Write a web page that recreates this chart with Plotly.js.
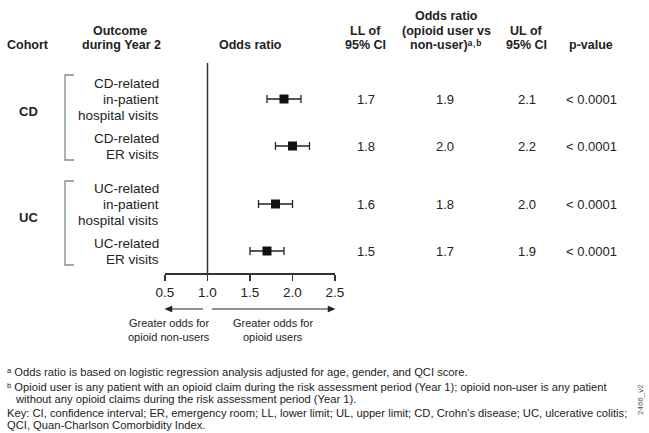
<!DOCTYPE html>
<html>
<head>
<meta charset="utf-8">
<script src="https://cdn.plot.ly/plotly-3.0.1.min.js"></script>
<style>html,body{margin:0;padding:0;background:#fff;}#chart{width:649px;height:433px;}</style>
</head>
<body>
<div id="chart"></div>
<script>
// ---- data ----
const cohorts = ['CD', 'UC'];
const cohortOfRow = [0, 0, 1, 1];
const outcomeLines = [
  ['CD-related', 'in-patient', 'hospital visits'],
  ['CD-related', 'ER visits'],
  ['UC-related', 'in-patient', 'hospital visits'],
  ['UC-related', 'ER visits']
];
const oddsRatio = [1.9, 2.0, 1.8, 1.7];
const lowerCI = [1.7, 1.8, 1.6, 1.5];
const upperCI = [2.1, 2.2, 2.0, 1.9];
const pValues = ['< 0.0001', '< 0.0001', '< 0.0001', '< 0.0001'];
const tickVals = [0.5, 1.0, 1.5, 2.0, 2.5];
const tickLabels = ['0.5', '1.0', '1.5', '2.0', '2.5'];

// ---- layout helpers ----
const FONT = 'Liberation Sans, Arial, Helvetica, sans-serif';
const INK = '#222';
const PL = 165, PR = 335, PT = 63, PB = 273;
const px = x => (x - PL) / (PR - PL);
const py = y => (PB - y) / (PB - PT);
const groupGap = 0.234;
const rowPos = oddsRatio.map((_, k) => k + cohortOfRow[k] * groupGap);

const ann = [];
function txt(x, y, text, opt) {
  ann.push(Object.assign({
    xref: 'paper', yref: 'paper', x: px(x), y: py(y), text: text,
    showarrow: false, xanchor: 'center', yanchor: 'middle',
    font: {family: FONT, size: 13, color: INK}
  }, opt || {}));
}
const bold = {family: FONT, size: 12.5, color: INK, weight: 'bold'};

// headers
txt(28, 45, 'Cohort', {font: bold});
txt(120, 31, 'Outcome', {font: bold});
txt(121, 45, 'during Year 2', {font: bold});
txt(250, 45, 'Odds ratio', {font: bold});
txt(365, 31, 'LL of', {font: bold});
txt(365, 45, '95% CI', {font: bold});
txt(446, 16, 'Odds ratio', {font: bold});
txt(446, 31, '(opioid user vs', {font: bold});
txt(446, 45, 'non-user)\u1D43\u02D2\u1D47', {font: bold});
txt(526, 31, 'UL of', {font: bold});
txt(526, 45, '95% CI', {font: bold});
txt(591, 45, 'p-value', {font: bold});

// cohort labels
txt(28, 112, cohorts[0], {font: Object.assign({}, bold, {size: 13})});
txt(28, 217, cohorts[1], {font: Object.assign({}, bold, {size: 13})});

// row labels and table values
outcomeLines.forEach((lines, k) => {
  const n = lines.length;
  lines.forEach((ln, i) => {
    ann.push({xref: 'paper', yref: 'y', x: px(161), y: rowPos[k], yshift: ((n - 1) / 2 - i) * 16,
      text: ln, showarrow: false, xanchor: 'right', yanchor: 'middle',
      font: {family: FONT, size: 13.5, color: INK}});
  });
  const cols = [[366, lowerCI[k].toFixed(1)], [445, oddsRatio[k].toFixed(1)], [527, upperCI[k].toFixed(1)], [591, pValues[k]]];
  cols.forEach(c => {
    ann.push({xref: 'paper', yref: 'y', x: px(c[0]), y: rowPos[k], text: c[1], showarrow: false,
      xanchor: 'center', yanchor: 'middle', font: {family: FONT, size: 13, color: INK}});
  });
});

// direction captions
const small = {family: FONT, size: 11, color: INK};
txt(169, 323, 'Greater odds for', {font: small});
txt(169, 337, 'opioid non-users', {font: small});
txt(273, 323, 'Greater odds for', {font: small});
txt(273, 337, 'opioid users', {font: small});

// footnotes
const foot = {family: FONT, size: 11.2, color: INK};
txt(5, 372, '\u1D43 Odds ratio is based on logistic regression analysis adjusted for age, gender, and QCI score.', {xanchor: 'left', font: foot});
txt(5, 387, '\u1D47 Opioid user is any patient with an opioid claim during the risk assessment period (Year 1); opioid non-user is any patient', {xanchor: 'left', font: foot});
txt(13, 399, 'without any opioid claims during the risk assessment period (Year 1).', {xanchor: 'left', font: foot});
txt(5, 413, 'Key: CI, confidence interval; ER, emergency room; LL, lower limit; UL, upper limit; CD, Crohn\u2019s disease; UC, ulcerative colitis;', {xanchor: 'left', font: foot});
txt(5, 425, 'QCI, Quan-Charlson Comorbidity Index.', {xanchor: 'left', font: foot});
txt(640, 400, '2466_v2', {textangle: -90, font: {family: FONT, size: 8, color: '#555'}});

// reference line, brackets, arrows
const ay = 309;
const shapes = [
  {type: 'line', xref: 'x', yref: 'paper', x0: 1, x1: 1, y0: 0, y1: 1, line: {color: '#333', width: 1.5}},
  {type: 'path', xref: 'paper', yref: 'paper',
   path: `M ${px(74)},${py(75)} L ${px(65)},${py(75)} L ${px(65)},${py(160)} L ${px(74)},${py(160)}`,
   line: {color: '#888', width: 1.3}},
  {type: 'path', xref: 'paper', yref: 'paper',
   path: `M ${px(74)},${py(181)} L ${px(65)},${py(181)} L ${px(65)},${py(265)} L ${px(74)},${py(265)}`,
   line: {color: '#888', width: 1.3}},
  {type: 'line', xref: 'paper', yref: 'paper', x0: px(203), x1: px(170), y0: py(ay), y1: py(ay), line: {color: INK, width: 1.2}},
  {type: 'path', xref: 'paper', yref: 'paper',
   path: `M ${px(165)},${py(ay)} L ${px(172)},${py(ay - 3)} L ${px(172)},${py(ay + 3)} Z`,
   fillcolor: INK, line: {color: INK, width: 0.5}},
  {type: 'line', xref: 'paper', yref: 'paper', x0: px(212), x1: px(330), y0: py(ay), y1: py(ay), line: {color: INK, width: 1.2}},
  {type: 'path', xref: 'paper', yref: 'paper',
   path: `M ${px(335)},${py(ay)} L ${px(328)},${py(ay - 3)} L ${px(328)},${py(ay + 3)} Z`,
   fillcolor: INK, line: {color: INK, width: 0.5}}
];

const trace = {
  type: 'scatter', mode: 'markers',
  x: oddsRatio, y: rowPos,
  marker: {symbol: 'square', size: 9, color: '#111'},
  error_x: {type: 'data', symmetric: false,
    array: oddsRatio.map((v, k) => upperCI[k] - v),
    arrayminus: oddsRatio.map((v, k) => v - lowerCI[k]),
    thickness: 1.3, width: 4, color: '#222'},
  hoverinfo: 'skip'
};

const layout = {
  width: 649, height: 433,
  margin: {l: PL, r: 649 - PR, t: PT, b: 433 - PB, pad: 0},
  paper_bgcolor: '#fff', plot_bgcolor: '#fff',
  showlegend: false,
  xaxis: {range: [0.5, 2.5], tickvals: tickVals, ticktext: tickLabels,
    ticks: 'outside', ticklen: 6, tickwidth: 1.5, tickcolor: '#333',
    showline: true, linewidth: 1.5, linecolor: '#333', showgrid: false, zeroline: false,
    tickfont: {family: FONT, size: 13.5, color: INK}, fixedrange: true},
  yaxis: {range: [3.702, -0.766], visible: false, showgrid: false, zeroline: false, fixedrange: true},
  annotations: ann,
  shapes: shapes
};

Plotly.newPlot('chart', [trace], layout, {staticPlot: true, displayModeBar: false});
</script>
</body>
</html>
